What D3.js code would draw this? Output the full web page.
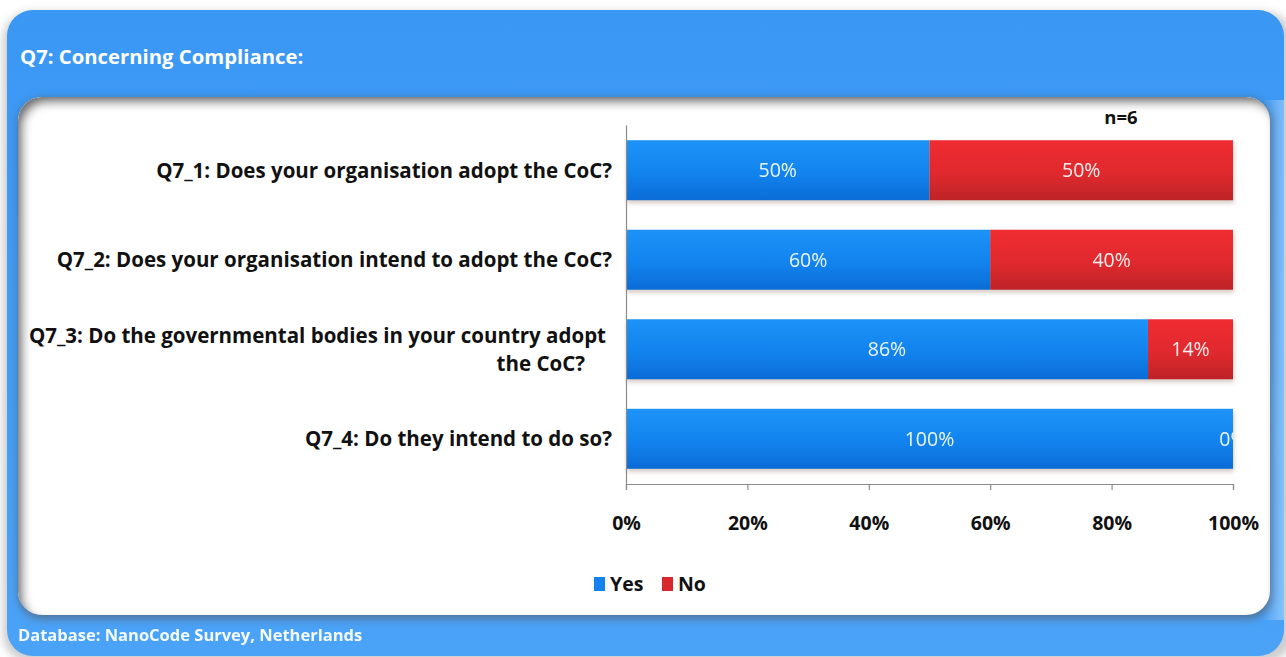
<!DOCTYPE html>
<html>
<head>
<meta charset="utf-8">
<script src="https://cdn.jsdelivr.net/npm/d3@7"></script>
<style>
  html, body { margin: 0; padding: 0; background: #fff; }
  svg { display: block; }
  text { font-family: "Open Sans", Lato, sans-serif; }
</style>
</head>
<body>
<svg id="chart" width="1286" height="657"></svg>
<script>
// Survey answers, percent of respondents
const categories = [
  "Q7_1: Does your organisation adopt the CoC?",
  "Q7_2: Does your organisation intend to adopt the CoC?",
  "Q7_3: Do the governmental bodies in your country adopt the CoC?",
  "Q7_4: Do they intend to do so?"
];
const categoryLines = [
  ["Q7_1: Does your organisation adopt the CoC?"],
  ["Q7_2: Does your organisation intend to adopt the CoC?"],
  ["Q7_3: Do the governmental bodies in your country adopt", "the CoC?"],
  ["Q7_4: Do they intend to do so?"]
];
const yesValues = [50, 60, 86, 100];
const noValues = [50, 40, 14, 0];
const seriesNames = ["Yes", "No"];
const tickValues = [0, 20, 40, 60, 80, 100];
const sampleNote = "n=6";
const title = "Q7: Concerning Compliance:";
const footer = "Database: NanoCode Survey,  Netherlands";

const svg = d3.select("#chart");
const defs = svg.append("defs");

// gradients
const outerGrad = defs.append("linearGradient").attr("id", "outerGrad")
  .attr("x1", 0).attr("y1", 0).attr("x2", 0).attr("y2", 1);
outerGrad.append("stop").attr("offset", "0%").attr("stop-color", "#3a97f4");
outerGrad.append("stop").attr("offset", "100%").attr("stop-color", "#4ba3f8");

const edgeGrad = defs.append("linearGradient").attr("id", "edgeGrad")
  .attr("x1", 0).attr("y1", 0).attr("x2", 1).attr("y2", 0);
edgeGrad.append("stop").attr("offset", "0%").attr("stop-color", "#ffffff").attr("stop-opacity", 0);
edgeGrad.append("stop").attr("offset", "100%").attr("stop-color", "#ffffff").attr("stop-opacity", 0.35);

const yesGrad = defs.append("linearGradient").attr("id", "yesGrad")
  .attr("x1", 0).attr("y1", 0).attr("x2", 0).attr("y2", 1);
yesGrad.append("stop").attr("offset", "0%").attr("stop-color", "#1d93f7");
yesGrad.append("stop").attr("offset", "55%").attr("stop-color", "#1283ee");
yesGrad.append("stop").attr("offset", "100%").attr("stop-color", "#0b6cd6");

const noGrad = defs.append("linearGradient").attr("id", "noGrad")
  .attr("x1", 0).attr("y1", 0).attr("x2", 0).attr("y2", 1);
noGrad.append("stop").attr("offset", "0%").attr("stop-color", "#ef2c31");
noGrad.append("stop").attr("offset", "55%").attr("stop-color", "#e0292e");
noGrad.append("stop").attr("offset", "100%").attr("stop-color", "#bd2327");

// soft shadow
const sh = defs.append("filter").attr("id", "soft").attr("x", "-5%").attr("y", "-10%")
  .attr("width", "110%").attr("height", "130%");
sh.append("feGaussianBlur").attr("stdDeviation", 4);

const barSh = defs.append("filter").attr("id", "barShadow").attr("x", "-5%").attr("y", "-20%")
  .attr("width", "110%").attr("height", "160%");
barSh.append("feGaussianBlur").attr("stdDeviation", 2);

// inner shadow for the white panel
const inner = defs.append("filter").attr("id", "innerShadow")
  .attr("x", "-5%").attr("y", "-5%").attr("width", "110%").attr("height", "110%");
inner.append("feFlood").attr("flood-color", "#6a6a6a").attr("result", "c");
inner.append("feComposite").attr("in", "c").attr("in2", "SourceAlpha").attr("operator", "out").attr("result", "inv");
inner.append("feOffset").attr("in", "inv").attr("dx", 5).attr("dy", 6).attr("result", "off");
inner.append("feGaussianBlur").attr("in", "off").attr("stdDeviation", 5).attr("result", "blur");
inner.append("feComposite").attr("in", "blur").attr("in2", "SourceAlpha").attr("operator", "in").attr("result", "sh");
const m = inner.append("feMerge");
m.append("feMergeNode").attr("in", "SourceGraphic");
m.append("feMergeNode").attr("in", "sh");

// outer blue frame
svg.append("rect").attr("x", 3).attr("y", 12).attr("width", 1290).attr("height", 650)
  .attr("rx", 28).attr("fill", "#9a9a9a").attr("opacity", 0.5).attr("filter", "url(#soft)");
svg.append("rect").attr("x", 7).attr("y", 10).attr("width", 1277).attr("height", 646)
  .attr("rx", 26).attr("fill", "url(#outerGrad)");
svg.append("rect").attr("x", 1262).attr("y", 100).attr("width", 22).attr("height", 520)
  .attr("fill", "url(#edgeGrad)");

svg.append("text").attr("x", 20).attr("y", 64)
  .attr("fill", "#fff").attr("font-weight", 700).attr("font-size", 20.3)
  .text(title);

// white inner panel with shadow
svg.append("rect").attr("x", 18).attr("y", 99).attr("width", 1254).attr("height", 520)
  .attr("rx", 24).attr("fill", "#555").attr("opacity", 0.6).attr("filter", "url(#soft)");
svg.append("rect").attr("x", 18).attr("y", 97).attr("width", 1252).attr("height", 518)
  .attr("rx", 24).attr("fill", "#fff").attr("filter", "url(#innerShadow)");

svg.append("text").attr("x", 18).attr("y", 641)
  .attr("fill", "#fff").attr("font-weight", 700).attr("font-size", 16.5)
  .attr("opacity", 0.95)
  .text(footer);

// scales
const x = d3.scaleLinear().domain([0, 100]).range([626, 1233]);
const y = d3.scaleBand().domain(categories).range([125, 484])
  .paddingInner(0.33).paddingOuter(0.17);

const rows = categories.map((c, i) => ({
  cat: c, lines: categoryLines[i],
  segs: [
    { key: "yes", x0: 0, x1: yesValues[i], v: yesValues[i] },
    { key: "no", x0: yesValues[i], x1: yesValues[i] + noValues[i], v: noValues[i] }
  ]
}));

defs.append("clipPath").attr("id", "plotClip")
  .append("rect").attr("x", x(0)).attr("y", 100).attr("width", x(100) - x(0)).attr("height", 400);

const plot = svg.append("g");

// bar shadows
plot.selectAll("rect.shadow").data(rows).join("rect")
  .attr("class", "shadow")
  .attr("x", d => x(0) + 1)
  .attr("y", d => y(d.cat) + 3)
  .attr("width", d => x(d.segs[1].x1) - x(0))
  .attr("height", y.bandwidth())
  .attr("fill", "#8a6a5a").attr("opacity", 0.35)
  .attr("filter", "url(#barShadow)");

const rowG = plot.selectAll("g.row").data(rows).join("g").attr("class", "row");
rowG.selectAll("rect.seg").data(d => d.segs.map(s => ({ ...s, cat: d.cat }))).join("rect")
  .attr("class", "seg")
  .attr("x", d => x(d.x0))
  .attr("y", d => y(d.cat))
  .attr("width", d => x(d.x1) - x(d.x0))
  .attr("height", y.bandwidth())
  .attr("fill", d => d.key === "yes" ? "url(#yesGrad)" : "url(#noGrad)");

// value labels
const labG = svg.append("g").attr("clip-path", "url(#plotClip)");
rows.forEach(r => {
  labG.selectAll(null).data(r.segs).join("text")
    .attr("x", d => x((d.x0 + d.x1) / 2))
    .attr("y", y(r.cat) + y.bandwidth() / 2)
    .attr("dy", "0.36em")
    .attr("text-anchor", "middle")
    .attr("fill", "#fff").attr("font-size", 19.5)
    .attr("opacity", 0.92)
    .text(d => d.v + "%");
});

// axes
const xAxis = d3.axisBottom(x).tickValues(tickValues).tickSize(6).tickFormat(d => d + "%");
const gx = svg.append("g").attr("transform", "translate(0,484)").call(xAxis);
gx.select(".domain").attr("stroke", "#8c8c8c").attr("stroke-width", 1.2);
gx.selectAll(".tick line").attr("stroke", "#8c8c8c").attr("stroke-width", 1.2);
gx.selectAll(".tick text").attr("font-family", "'Open Sans', sans-serif").attr("font-size", 19.5)
  .attr("font-weight", 700).attr("fill", "#111").attr("dy", 0).attr("y", 46);

const yAxis = d3.axisLeft(y).tickSize(0).tickFormat("");
const gy = svg.append("g").attr("transform", `translate(${x(0)},0)`).call(yAxis);
gy.select(".domain").attr("stroke", "#8c8c8c").attr("stroke-width", 1.2);

// category labels
rows.forEach(r => {
  const cy = y(r.cat) + y.bandwidth() / 2;
  const n = r.lines.length;
  const t = svg.append("text")
    .attr("font-size", 20.5).attr("font-weight", 700).attr("fill", "#111")
    .attr("text-anchor", "end");
  r.lines.forEach((ln, j) => {
    t.append("tspan")
      .attr("x", n > 1 ? (j === 0 ? 606 : 585) : 612)
      .attr("y", cy + (j - (n - 1) / 2) * 28)
      .attr("dy", "0.36em")
      .text(ln);
  });
});

svg.append("text").attr("x", 1121).attr("y", 124).attr("text-anchor", "middle")
  .attr("font-size", 18.5).attr("font-weight", 700).attr("fill", "#111")
  .text(sampleNote);

// legend
const legend = svg.append("g").attr("transform", "translate(594,577)");
const legendColors = ["#1283ee", "#d8282d"];
const legendX = [0, 68];
seriesNames.forEach((s, i) => {
  legend.append("rect").attr("x", legendX[i]).attr("y", 0).attr("width", 11).attr("height", 14)
    .attr("fill", legendColors[i]);
  legend.append("text").attr("x", legendX[i] + 16).attr("y", 7).attr("dy", "0.36em")
    .attr("font-size", 19.5).attr("font-weight", 700).attr("fill", "#111")
    .text(s);
});
</script>
</body>
</html>
